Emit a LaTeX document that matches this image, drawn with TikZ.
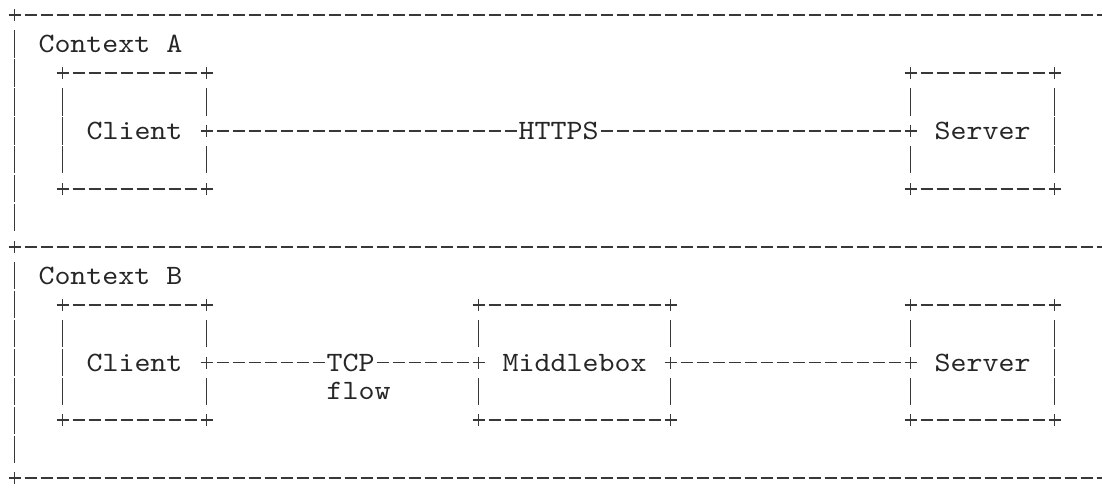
\documentclass[tikz,border=0pt]{standalone}
\usepackage{fontspec}
\newfontfamily\asciifont[FakeStretch=1.0884]{lmmono10-regular.otf}
\usetikzlibrary{calc}
\tikzset{
  ink/.style={draw=black!78, line width=1.9pt, line cap=butt},
  dashrule/.style={ink, dash pattern=on 12pt off 4pt},
  lbl/.style={font=\asciifont\fontsize{28pt}{28pt}\selectfont, text=black!85, inner sep=0pt, outer sep=0pt, text height=17pt, text depth=0pt},
  asciibox/.style={lbl, minimum height=115.84pt},
}
\newcommand\plusat[1]{\draw[ink] ([xshift=-6pt]#1) -- ([xshift=6pt]#1) ([yshift=-6pt]#1) -- ([yshift=6pt]#1);}
\newcommand\dashrun[2]{\draw[dashrule] ([xshift=10pt]#1) -- ([xshift=-10pt]#2);}
\newcommand\vbars[2]{\foreach \rr in {#2}{\draw[ink] ([yshift={-(\rr*28.96pt-13.7pt)}]#1) -- ([yshift={-(\rr*28.96pt+13.7pt)}]#1);}}
\newcommand\asciiframe[1]{%
  \plusat{#1.north west}\plusat{#1.north east}\plusat{#1.south west}\plusat{#1.south east}%
  \dashrun{#1.north west}{#1.north east}\dashrun{#1.south west}{#1.south east}}
\begin{document}
\begin{tikzpicture}[x=16pt, y=-28.96pt]
\useasboundingbox (-0.90625,-0.51796) rectangle (67.96875,16.3674);
\clip (-0.90625,-0.51796) rectangle (67.96875,16.3674);
% outer frame
\coordinate (f0) at (0,0); \coordinate (f8) at (0,8); \coordinate (f16) at (0,16);
\coordinate (e0) at (70,0); \coordinate (e8) at (70,8); \coordinate (e16) at (70,16);
\plusat{f0}\plusat{f8}\plusat{f16}
\dashrun{f0}{e0}\dashrun{f8}{e8}\dashrun{f16}{e16}
\vbars{f0}{1,...,7}\vbars{f8}{1,...,7}
% Context A
\node[lbl, anchor=west] (ctxA) at (1.5,1) {Context A};
\node[asciibox, minimum width=144pt] (clientA) at (7.5,4) {Client};
\node[asciibox, minimum width=144pt] (serverA) at (60.5,4) {Server};
\node[lbl] (https) at (34,4) {HTTPS};
\asciiframe{clientA}\asciiframe{serverA}
\vbars{clientA.north west}{1,2,3}\vbars{clientA.north east}{1,3}
\vbars{serverA.north west}{1,3}\vbars{serverA.north east}{1,2,3}
\plusat{clientA.east}\plusat{serverA.west}
\draw[dashrule] ([xshift=10pt]clientA.east) -- ([xshift=-2pt]https.west);
\draw[dashrule] ([xshift=2pt]https.east) -- ([xshift=-10pt]serverA.west);
% Context B
\node[lbl, anchor=west] (ctxB) at (1.5,9) {Context B};
\node[asciibox, minimum width=144pt] (clientB) at (7.5,12) {Client};
\node[asciibox, minimum width=192pt] (mbox) at (35,12) {Middlebox};
\node[asciibox, minimum width=144pt] (serverB) at (60.5,12) {Server};
\node[lbl] (tcp) at (21,12) {TCP};
\node[lbl, anchor=base west] (flow) at ([yshift=-28.96pt]tcp.base west) {flow};
\asciiframe{clientB}\asciiframe{mbox}\asciiframe{serverB}
\vbars{clientB.north west}{1,2,3}\vbars{clientB.north east}{1,3}
\vbars{mbox.north west}{1,3}\vbars{mbox.north east}{1,3}
\vbars{serverB.north west}{1,3}\vbars{serverB.north east}{1,2,3}
\plusat{clientB.east}\plusat{mbox.west}\plusat{mbox.east}\plusat{serverB.west}
\draw[dashrule] ([xshift=10pt]clientB.east) -- ([xshift=-2pt]tcp.west);
\draw[dashrule] ([xshift=2pt]tcp.east) -- ([xshift=-10pt]mbox.west);
\dashrun{mbox.east}{serverB.west}
\end{tikzpicture}
\end{document}
